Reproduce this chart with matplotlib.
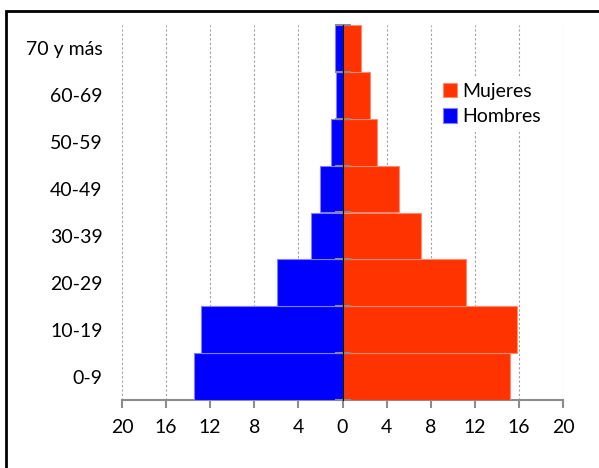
import matplotlib.pyplot as plt
from matplotlib.patches import Rectangle

plt.rcParams['font.family'] = ['Lato', 'DejaVu Sans']

# Age groups (bottom to top)
grupos = ["0-9", "10-19", "20-29", "30-39", "40-49", "50-59", "60-69", "70 y más"]
mujeres = [15.2, 15.8, 11.2, 7.1, 5.1, 3.1, 2.5, 1.7]
hombres = [13.5, 12.8, 5.9, 2.9, 2.0, 1.0, 0.55, 0.7]
ticks_x = [-20, -16, -12, -8, -4, 0, 4, 8, 12, 16, 20]

ROJO = "#FF3300"
AZUL = "#0000FF"
GRIS = "#8C8C8C"

fig = plt.figure(figsize=(5.99, 4.68), dpi=100)
ax = fig.add_axes([122 / 599, 1 - 400 / 468, (563 - 122) / 599, (400 - 25) / 468])

pos = list(range(len(grupos)))
ax.barh(pos, mujeres, height=1.0, color=ROJO, edgecolor="#FF8A70", linewidth=0.8,
        label="Mujeres", zorder=3)
ax.barh(pos, [-v for v in hombres], height=1.0, color=AZUL, edgecolor="#7F7FFF",
        linewidth=0.8, label="Hombres", zorder=3)

ax.set_xlim(-20, 20)
ax.set_ylim(-0.5, len(grupos) - 0.5)
ax.set_xticks(ticks_x)
ax.set_xticklabels([str(abs(t)) for t in ticks_x])
ax.set_yticks(pos)
ax.set_yticklabels(grupos)

ax.xaxis.grid(True, linestyle=(0, (2, 2)), color="#A0A0A0", linewidth=0.8, zorder=0)
for s in ["top", "right", "left"]:
    ax.spines[s].set_visible(False)
ax.spines["bottom"].set_color(GRIS)
ax.spines["bottom"].set_linewidth(1.5)
ax.tick_params(axis="x", colors=GRIS, length=6, width=1.5, labelcolor="black",
               labelsize=14, pad=8)
ax.tick_params(axis="y", length=0, labelsize=14, pad=14)

# central axis at x = 0 with category separators
sec = ax.secondary_yaxis(0.5)
sec.spines["left"].set_color(GRIS)
sec.spines["left"].set_linewidth(1.5)
sec.set_yticks([p - 0.5 for p in pos] + [len(grupos) - 0.5])
sec.set_yticklabels([])
sec.tick_params(axis="y", direction="inout", length=12, width=1.5, colors=GRIS)
sec.set_zorder(4)

leg = ax.legend(loc="upper left", bbox_to_anchor=(426 / 599, 1 - 66 / 468),
                bbox_transform=fig.transFigure, frameon=True, fancybox=False,
                edgecolor="none", facecolor="white", framealpha=1,
                fontsize=14, handlelength=0.75, handleheight=0.75,
                handletextpad=0.25, labelspacing=0.45, borderpad=0.35)
leg.set_zorder(5)

# outer chart border
fig.patches.append(Rectangle((5.5 / 599, -0.1), 1.2, 1 - 10.5 / 468 + 0.1,
                             transform=fig.transFigure, fill=False,
                             edgecolor="black", linewidth=2))

fig.savefig("out.png", dpi=100)
